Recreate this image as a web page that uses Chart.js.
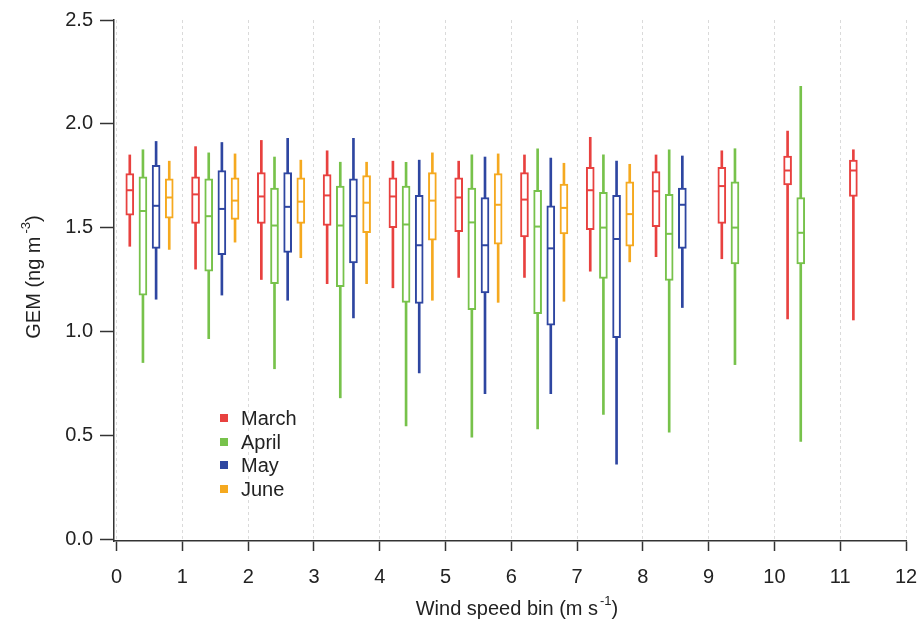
<!DOCTYPE html>
<html>
<head>
<meta charset="utf-8">
<script src="https://cdn.jsdelivr.net/npm/chart.js@4"></script>
<style>
  html, body { margin: 0; padding: 0; background: #fff; }
  #wrap { position: relative; width: 919px; height: 623px; }
</style>
</head>
<body>
<div id="wrap"><canvas id="c" width="919" height="623"></canvas></div>
<script>
// ---------- DATA ----------
const bins = [0, 1, 2, 3, 4, 5, 6, 7, 8, 9, 10, 11];
const months = ['March', 'April', 'May', 'June'];
const monthOffsets = [0.2, 0.4, 0.6, 0.8];
const xTickLabels = ['0','1','2','3','4','5','6','7','8','9','10','11','12'];
const yTickLabels = ['0.0','0.5','1.0','1.5','2.0','2.5'];

// [min, q1, median, q3, max] per wind speed bin (null = no data)
const marchStats = [
  [1.41, 1.56, 1.68, 1.76, 1.85],
  [1.30, 1.52, 1.66, 1.745, 1.89],
  [1.25, 1.52, 1.65, 1.765, 1.92],
  [1.23, 1.51, 1.655, 1.755, 1.87],
  [1.21, 1.50, 1.65, 1.74, 1.82],
  [1.26, 1.48, 1.645, 1.74, 1.82],
  [1.26, 1.455, 1.635, 1.765, 1.85],
  [1.29, 1.49, 1.68, 1.79, 1.935],
  [1.36, 1.505, 1.675, 1.77, 1.85],
  [1.35, 1.52, 1.70, 1.79, 1.87],
  [1.06, 1.705, 1.775, 1.845, 1.965],
  [1.055, 1.65, 1.775, 1.825, 1.875]
];
const aprilStats = [
  [0.85, 1.175, 1.58, 1.745, 1.875],
  [0.965, 1.29, 1.555, 1.735, 1.86],
  [0.82, 1.23, 1.51, 1.69, 1.84],
  [0.68, 1.215, 1.51, 1.70, 1.815],
  [0.545, 1.14, 1.515, 1.70, 1.815],
  [0.49, 1.105, 1.525, 1.69, 1.85],
  [0.53, 1.085, 1.505, 1.68, 1.88],
  [0.60, 1.255, 1.50, 1.67, 1.85],
  [0.515, 1.245, 1.47, 1.66, 1.875],
  [0.84, 1.325, 1.50, 1.72, 1.88],
  [0.47, 1.325, 1.475, 1.645, 2.18],
  null
];
const mayStats = [
  [1.155, 1.40, 1.605, 1.80, 1.915],
  [1.175, 1.37, 1.59, 1.775, 1.91],
  [1.15, 1.38, 1.60, 1.765, 1.93],
  [1.065, 1.33, 1.555, 1.735, 1.93],
  [0.80, 1.135, 1.415, 1.655, 1.825],
  [0.70, 1.185, 1.415, 1.645, 1.84],
  [0.70, 1.03, 1.40, 1.605, 1.835],
  [0.36, 0.97, 1.445, 1.655, 1.82],
  [1.115, 1.40, 1.61, 1.69, 1.845],
  null, null, null
];
const juneStats = [
  [1.395, 1.545, 1.645, 1.735, 1.82],
  [1.43, 1.54, 1.63, 1.74, 1.855],
  [1.355, 1.52, 1.625, 1.74, 1.825],
  [1.23, 1.475, 1.62, 1.75, 1.815],
  [1.15, 1.44, 1.63, 1.765, 1.86],
  [1.14, 1.42, 1.61, 1.76, 1.855],
  [1.145, 1.47, 1.595, 1.71, 1.81],
  [1.335, 1.41, 1.565, 1.72, 1.805],
  null, null, null, null
];
const allStats = [marchStats, aprilStats, mayStats, juneStats];

// ---------- STYLE ----------
const colors = ['#e8413f', '#77c24b', '#2e46a1', '#f5a91f'];
const FONT = '"Liberation Sans", Arial, Helvetica, sans-serif';
const textColor = '#222';

// ---------- DATASETS ----------
const datasets = [];
allStats.forEach((stats, m) => {
  const pts = [];
  stats.forEach((s, i) => { if (s) pts.push({ x: bins[i] + monthOffsets[m], s }); });
  datasets.push({
    type: 'bar', label: months[m] + ' whisker', grouped: false, order: 3,
    data: pts.map(p => ({ x: p.x, y: [p.s[0], p.s[4]] })),
    backgroundColor: colors[m], borderWidth: 0, barThickness: 2
  });
  datasets.push({
    type: 'bar', label: months[m], grouped: false, order: 2,
    data: pts.map(p => ({ x: p.x, y: [p.s[1], p.s[3]] })),
    backgroundColor: '#ffffff', borderColor: colors[m], borderWidth: 2,
    borderSkipped: false, barThickness: 8
  });
  datasets.push({
    type: 'line', label: months[m] + ' median', order: 1, showLine: false,
    data: pts.map(p => ({ x: p.x, y: p.s[2] })),
    pointStyle: 'line', pointRadius: 3.5, pointBorderWidth: 2,
    pointBorderColor: colors[m], pointBackgroundColor: colors[m]
  });
});

// ---------- TITLES & LEGEND PLUGIN ----------
function drawRich(ctx, parts, cx, baseline) {
  let total = 0;
  parts.forEach(p => { ctx.font = p.size + 'px ' + FONT; p.w = ctx.measureText(p.t).width; total += p.w + (p.gap || 0); });
  let x = cx - total / 2;
  parts.forEach(p => {
    ctx.font = p.size + 'px ' + FONT;
    x += (p.pre || 0);
    ctx.fillText(p.t, x, baseline - (p.rise || 0));
    x += p.w + (p.gap || 0) - (p.pre || 0);
  });
}
const decorPlugin = {
  id: 'decor',
  afterDraw(chart) {
    const ctx = chart.ctx;
    ctx.save();
    ctx.fillStyle = textColor;
    ctx.textAlign = 'left';
    ctx.textBaseline = 'alphabetic';
    // x title
    drawRich(ctx, [
      { t: 'Wind speed bin (m s', size: 20 },
      { t: '-1', size: 13, rise: 10, pre: 2, gap: 2 },
      { t: ')', size: 20 }
    ], 517, 615);
    // y title
    ctx.translate(40, 277);
    ctx.rotate(-Math.PI / 2);
    drawRich(ctx, [
      { t: 'GEM (ng m', size: 20 },
      { t: '-3', size: 13, rise: 10, pre: 3, gap: 3 },
      { t: ')', size: 20 }
    ], 0, 0);
    ctx.restore();
    // legend
    ctx.save();
    ctx.font = '20px ' + FONT;
    ctx.textBaseline = 'middle';
    ctx.fillStyle = textColor;
    const ly = [418, 442, 465, 489];
    months.forEach((m, i) => {
      ctx.fillStyle = colors[i];
      ctx.fillRect(220, ly[i] - 4, 8, 8);
      ctx.fillStyle = textColor;
      ctx.fillText(m, 241, ly[i] + 1);
    });
    ctx.restore();
  }
};

new Chart(document.getElementById('c'), {
  type: 'bar',
  data: { datasets },
  options: {
    responsive: false,
    animation: false,
    events: [],
    layout: { padding: { top: 20, right: 13, left: 0, bottom: 0 } },
    plugins: { legend: { display: false }, tooltip: { enabled: false } },
    scales: {
      x: {
        type: 'linear', min: -0.04, max: 12, offset: false,
        afterFit: s => { s.height = 82; s.paddingLeft = 0; s.paddingRight = 0; },
        ticks: {
          stepSize: 1, includeBounds: false, autoSkip: false, maxRotation: 0,
          color: textColor, font: { family: FONT, size: 20 }, padding: 14,
          callback: v => xTickLabels[v]
        },
        grid: {
          offset: false, color: '#dadada', lineWidth: 1, drawOnChartArea: true, drawTicks: true,
          tickLength: 10, tickColor: '#333', tickWidth: 1.5, tickBorderDash: []
        },
        border: { display: true, color: '#333', width: 1.5, dash: [3, 3] }
      },
      y: {
        type: 'linear', min: -0.0096, max: 2.5, beginAtZero: false,
        afterFit: s => { s.width = 114; s.paddingTop = 0; s.paddingBottom = 0; },
        ticks: {
          stepSize: 0.5, includeBounds: false, color: textColor,
          font: { family: FONT, size: 20 }, padding: 7,
          callback: v => yTickLabels[Math.round(v / 0.5)]
        },
        grid: {
          drawOnChartArea: false, drawTicks: true, tickLength: 14,
          tickColor: '#333', tickWidth: 1.5, color: '#333'
        },
        border: { display: true, color: '#333', width: 1.5 }
      }
    }
  },
  plugins: [decorPlugin]
});
</script>
</body>
</html>
